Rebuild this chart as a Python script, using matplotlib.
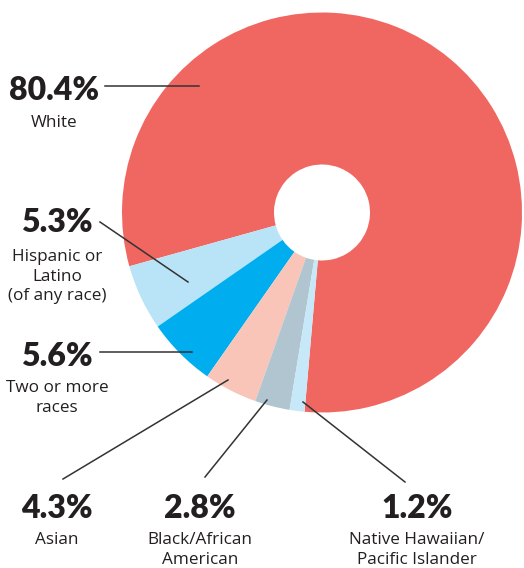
import matplotlib
matplotlib.use("Agg")
import matplotlib.pyplot as plt

# data
groups = ["White", "Hispanic or\nLatino\n(of any race)", "Two or more\nraces", "Asian",
          "Black/African\nAmerican", "Native Hawaiian/\nPacific Islander"]
shares = [80.4, 5.3, 5.6, 4.3, 2.8, 1.2]
colors = ["#F06762", "#B9E4F8", "#00AEEF", "#F8C5B8", "#B1C5D0", "#C6E8F8"]

W, H = 524, 568
fig = plt.figure(figsize=(W / 100, H / 100), dpi=100)
ax = fig.add_axes([0, 0, 1, 1])

def py(y):  # pixel row -> axes y
    return H - y

cx, cy, R, hole = 322, 212.5, 200, 48
ax.pie(shares, colors=colors, startangle=-95, counterclock=True,
       center=(cx, py(cy)), radius=R, frame=True,
       wedgeprops=dict(width=R - hole, linewidth=0))
ax.set_xlim(0, W)
ax.set_ylim(0, H)
ax.set_aspect("equal")
ax.axis("off")

# label layout: (pct x, pct y, label top y, line start, line end)
layout = [
    (54, 90, 115, (105, 86), (199, 86)),
    (57, 223, 249, (100, 222), (188, 282)),
    (57, 356, 380, (100, 352), (192, 352)),
    (57, 508, 532, (63, 479), (228, 380)),
    (200, 508, 532, (205, 477), (267, 400)),
    (417, 508, 532, (405, 482), (303, 402)),
]

for name, val, (x, yp, yl, p0, p1) in zip(groups, shares, layout):
    ax.text(x, py(yp), f"{val}%", ha="center", va="center", fontsize=23,
            fontweight="heavy", family="Lato", color="#231F20")
    ax.text(x, py(yl), name, ha="center", va="top", fontsize=12.3,
            family="Open Sans", color="#231F20", linespacing=1.3)
    ax.plot([p0[0], p1[0]], [py(p0[1]), py(p1[1])], color="#333333", lw=1.1)

fig.savefig("out.png", dpi=100)
